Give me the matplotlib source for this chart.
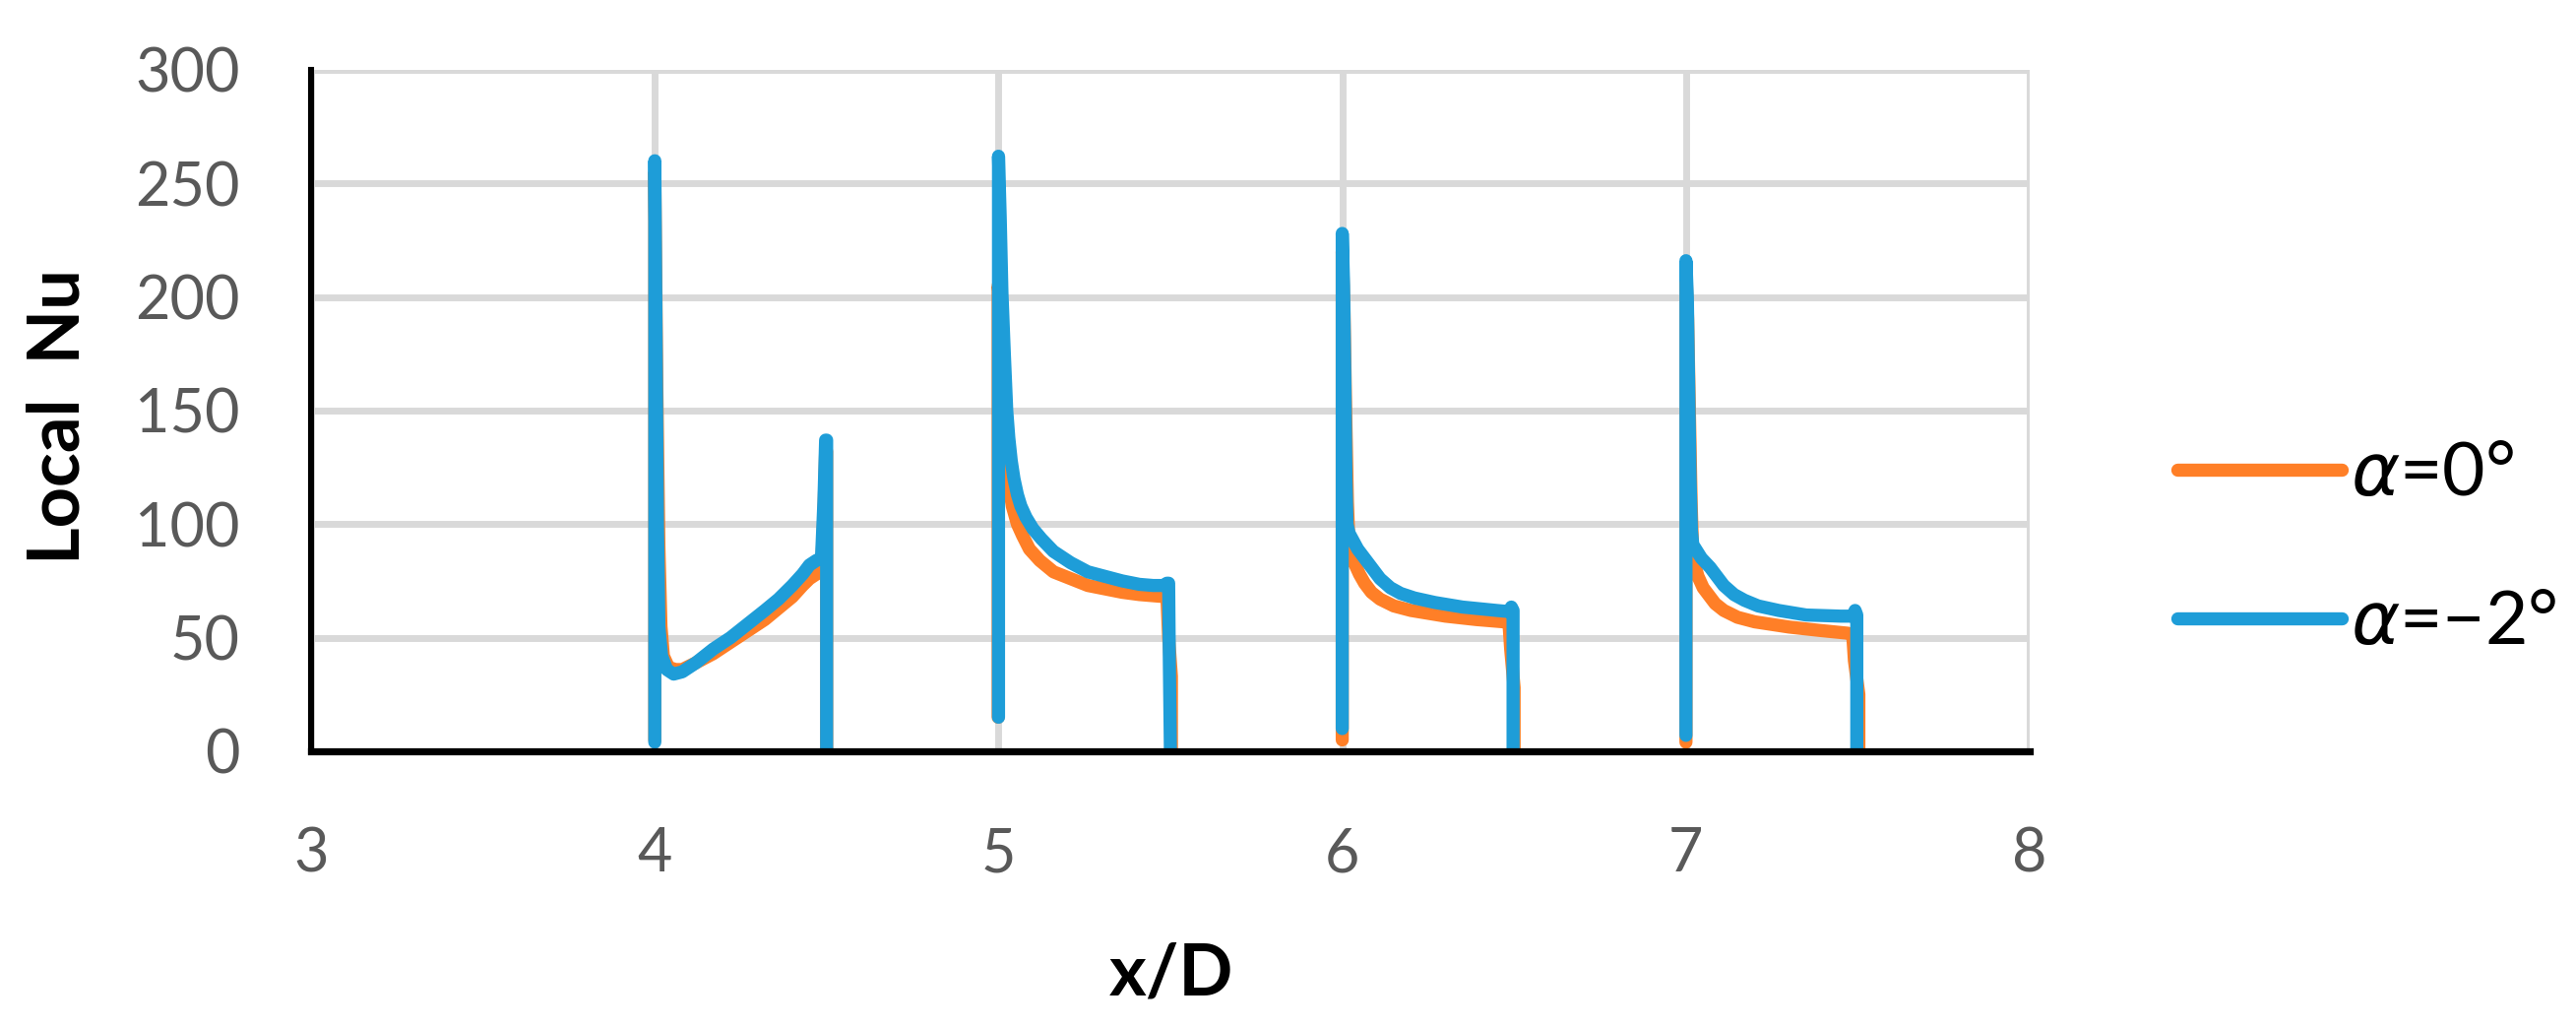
import numpy as np
import matplotlib
matplotlib.use("Agg")
import matplotlib.pyplot as plt

# ---------------- data ----------------
# alpha = 0 deg (orange)
x0_s1 = [4.0, 4.0, 4.006, 4.012, 4.018, 4.025, 4.04, 4.06, 4.08, 4.12, 4.17, 4.22, 4.27, 4.32, 4.36, 4.40, 4.43, 4.45, 4.47, 4.485, 4.492, 4.497, 4.5, 4.5]
y0_s1 = [5, 255, 160, 90, 55, 42, 37, 36, 36, 39, 43, 48, 53, 58, 63, 68, 73, 76, 78, 79, 105, 132, 132, 1]
x0_s2 = [4.999, 4.999, 5.003, 5.01, 5.018, 5.024, 5.03, 5.04, 5.055, 5.07, 5.09, 5.12, 5.16, 5.21, 5.26, 5.31, 5.36, 5.41, 5.45, 5.49, 5.495, 5.503, 5.503]
y0_s2 = [15, 205, 200, 175, 145, 128, 118, 108, 100, 95, 89, 84, 79, 76, 73, 71.5, 70, 69, 68.5, 68, 50, 33, 1]
x0_s3 = [6.0, 6.0, 6.005, 6.01, 6.015, 6.02, 6.035, 6.05, 6.065, 6.085, 6.11, 6.15, 6.2, 6.3, 6.39, 6.47, 6.485, 6.49, 6.5, 6.5]
y0_s3 = [5, 220, 195, 150, 110, 90, 83, 78, 74, 70, 67, 64, 62, 59.5, 58, 57, 56.5, 45, 28, 1]
x0_s4 = [7.0, 7.0, 7.005, 7.01, 7.015, 7.02, 7.035, 7.05, 7.065, 7.085, 7.11, 7.15, 7.2, 7.3, 7.39, 7.47, 7.485, 7.49, 7.503, 7.503]
y0_s4 = [4, 212, 190, 150, 110, 85, 77, 72, 69, 65, 62, 59, 57, 54.7, 53.2, 52, 51.5, 40, 25, 1]

# alpha = -2 deg (blue)
x2_s1 = [4.0, 4.0, 4.004, 4.008, 4.012, 4.02, 4.035, 4.055, 4.08, 4.12, 4.17, 4.22, 4.27, 4.32, 4.36, 4.40, 4.43, 4.45, 4.47, 4.485, 4.492, 4.497, 4.5, 4.5]
y2_s1 = [4, 260, 180, 100, 55, 42, 36, 34, 35, 39, 45, 50, 56, 62, 67, 73, 78, 82, 84, 85, 110, 137, 137, 1]
x2_s2 = [5.0, 5.0, 5.005, 5.01, 5.017, 5.024, 5.03, 5.037, 5.045, 5.055, 5.065, 5.08, 5.1, 5.125, 5.16, 5.21, 5.26, 5.31, 5.36, 5.41, 5.45, 5.48, 5.49, 5.495, 5.497, 5.5]
y2_s2 = [15, 262, 235, 202, 175, 150, 138, 128, 120, 113, 108, 103, 98, 93.5, 88, 83, 79, 77, 75, 73.5, 73, 73, 74, 74, 40, 1]
x2_s3 = [6.0, 6.0, 6.004, 6.008, 6.011, 6.014, 6.02, 6.045, 6.07, 6.09, 6.11, 6.14, 6.17, 6.21, 6.27, 6.35, 6.45, 6.485, 6.492, 6.497, 6.497]
y2_s3 = [10, 228, 205, 160, 120, 100, 96, 89, 84, 80, 76, 72, 69.5, 67.5, 65.5, 63.5, 62, 61.5, 63.5, 62, 1]
x2_s4 = [7.0, 7.0, 7.004, 7.008, 7.012, 7.016, 7.02, 7.045, 7.07, 7.09, 7.11, 7.14, 7.17, 7.21, 7.27, 7.35, 7.45, 7.485, 7.492, 7.497, 7.497]
y2_s4 = [7, 216, 200, 160, 120, 97, 91, 85, 81, 77, 73, 69, 66.5, 64, 62, 60, 59.5, 59.5, 62, 60, 1]

x_ticks = [3, 4, 5, 6, 7, 8]
y_ticks = [0, 50, 100, 150, 200, 250, 300]
labels = [r"$\alpha$=0°", r"$\alpha$=−2°"]
colors = ["#FF7F27", "#1E9DD8"]


def join(xs, ys):
    X, Y = [], []
    for xx, yy in zip(xs, ys):
        X += list(xx) + [np.nan]
        Y += list(yy) + [np.nan]
    return np.array(X), np.array(Y)


xa0, ya0 = join([x0_s1, x0_s2, x0_s3, x0_s4], [y0_s1, y0_s2, y0_s3, y0_s4])
xa2, ya2 = join([x2_s1, x2_s2, x2_s3, x2_s4], [y2_s1, y2_s2, y2_s3, y2_s4])

# ---------------- figure ----------------
W, H = 2617, 1043
fig = plt.figure(figsize=(W / 100, H / 100), dpi=100)
x_left, x_right = 316, 2062
y_top, y_bot = 71, 763
ax = fig.add_axes([x_left / W, (H - y_bot) / H, (x_right - x_left) / W, (y_bot - y_top) / H])

lw = 9.6
for xx, yy, c, lab in [(xa0, ya0, colors[0], labels[0]), (xa2, ya2, colors[1], labels[1])]:
    ax.plot(xx, yy, color=c, lw=lw, label=lab, solid_capstyle="round",
            solid_joinstyle="round", zorder=3)

ax.set_xlim(3, 8)
ax.set_ylim(0, 300)
ax.set_xticks(x_ticks)
ax.set_yticks(y_ticks)
ax.grid(True, color="#D9D9D9", lw=5, zorder=0)
ax.set_axisbelow(True)
for s in ["top", "right"]:
    ax.spines[s].set_visible(False)
ax.spines["left"].set_linewidth(4.4)
ax.spines["bottom"].set_linewidth(5.2)
ax.spines["left"].set_color("black")
ax.spines["bottom"].set_color("black")
ax.spines["bottom"].set_zorder(4)

tick_font = ["Lato", "DejaVu Sans"]
ax.tick_params(axis="both", length=0, labelsize=44, labelcolor="#595959")
ax.tick_params(axis="x", pad=55)
ax.tick_params(axis="y", pad=52)
for t in ax.get_xticklabels() + ax.get_yticklabels():
    t.set_fontfamily(tick_font)

fig.text(60 / W, 1 - 423 / H, "Local  Nu", rotation=90, ha="center", va="center",
         fontsize=52, fontweight="bold", family=tick_font)
fig.text(1190 / W, 1 - 990 / H, "x/D", ha="center", va="center",
         fontsize=52, fontweight="bold", family=tick_font)

leg = fig.legend(loc="center left", bbox_to_anchor=(2212 / W, 1 - 557 / H),
                 frameon=False, prop={"family": tick_font, "size": 54},
                 handlelength=2.22, handletextpad=0.12, labelspacing=1.1,
                 borderaxespad=0, borderpad=0)
for line in leg.get_lines():
    line.set_linewidth(9.6)
    line.set_solid_capstyle("round")

fig.savefig("out.png", dpi=100)
